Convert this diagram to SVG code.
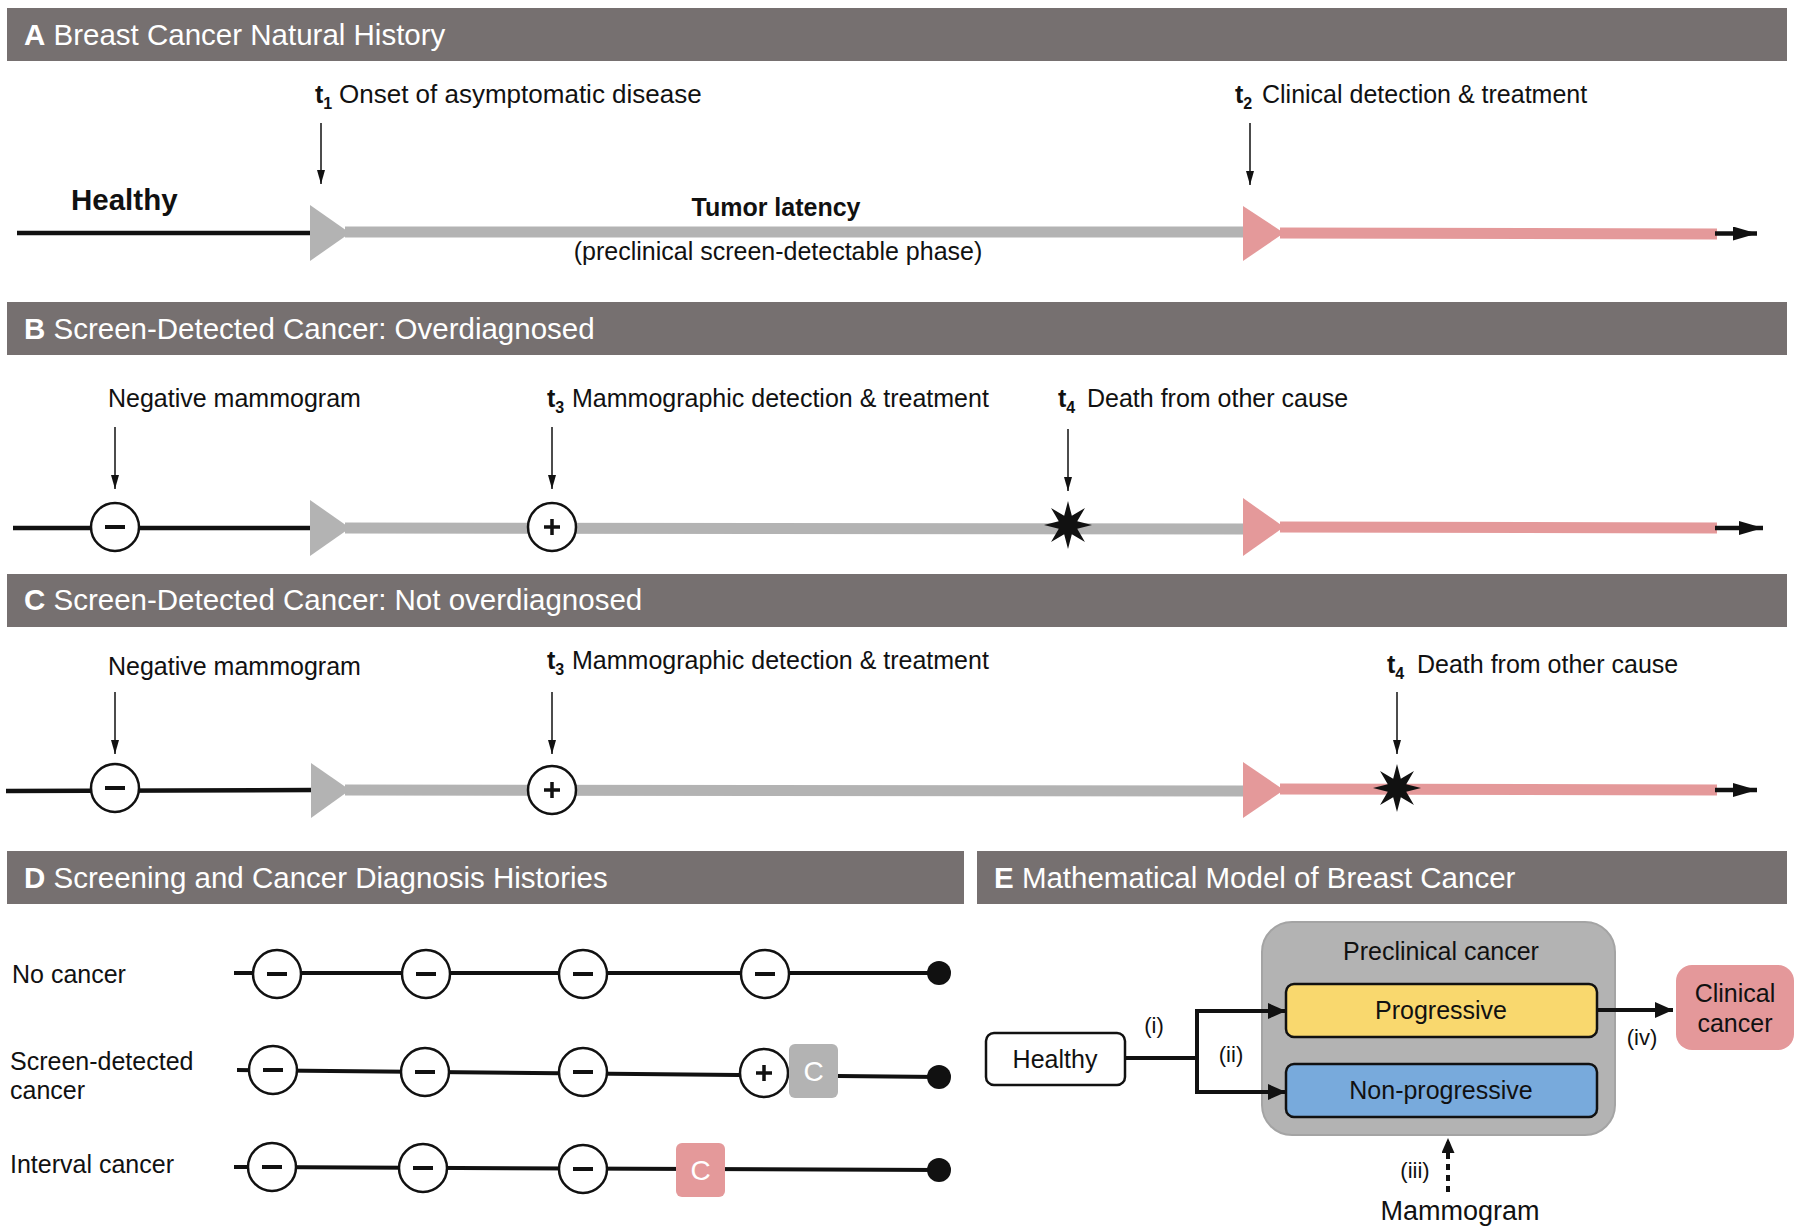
<svg xmlns="http://www.w3.org/2000/svg" xmlns:xlink="http://www.w3.org/1999/xlink" width="1800" height="1229" viewBox="0 0 1800 1229">
<style>
text{font-family:"Liberation Sans",Arial,sans-serif;fill:#111}
.hdr{fill:#767070}
.ht{fill:#fff;font-size:29.5px}
.lb{font-size:25px}
.sm{font-size:22px}
.b{font-weight:bold}
.sub{font-size:16px;font-weight:bold}
.blk{stroke:#111;stroke-width:4.5;fill:none}
.gbar{stroke:#b3b3b3;stroke-width:11;fill:none}
.pbar{stroke:#e4999a;stroke-width:11;fill:none}
.thin{stroke:#111;stroke-width:1.5;fill:none}
.tl{stroke:#111;stroke-width:4;fill:none}
.mid{text-anchor:middle}
</style>
<defs>
<marker id="mThin" viewBox="0 0 14 8" refX="14" refY="4" markerWidth="14" markerHeight="8" markerUnits="userSpaceOnUse" orient="auto"><path d="M0,0 L14,4 L0,8 z" fill="#111"/></marker>
<marker id="mEnd" viewBox="0 0 24 14" refX="24" refY="7" markerWidth="24" markerHeight="14" markerUnits="userSpaceOnUse" orient="auto"><path d="M0,0 L24,7 L0,14 z" fill="#111"/></marker>
<marker id="mE" viewBox="0 0 18 16" refX="18" refY="8" markerWidth="18" markerHeight="16" markerUnits="userSpaceOnUse" orient="auto"><path d="M0,0 L18,8 L0,16 z" fill="#111"/></marker>
<marker id="mD" viewBox="0 0 15 13" refX="15" refY="6.5" markerWidth="15" markerHeight="13" markerUnits="userSpaceOnUse" orient="auto"><path d="M0,0 L15,6.5 L0,13 z" fill="#111"/></marker>
<g id="neg"><circle r="24" fill="#fff" stroke="#111" stroke-width="2.5"/><line x1="-10" y1="0" x2="10" y2="0" stroke="#111" stroke-width="4"/></g>
<g id="pos"><circle r="24" fill="#fff" stroke="#111" stroke-width="2.5"/><path d="M-8,0 H8 M0,-8 V8" stroke="#111" stroke-width="3.5"/></g>
<polygon id="star" fill="#111" points="0,-24 3.83,-9.24 16.97,-16.97 9.24,-3.83 24,0 9.24,3.83 16.97,16.97 3.83,9.24 0,24 -3.83,9.24 -16.97,16.97 -9.24,3.83 -24,0 -9.24,-3.83 -16.97,-16.97 -3.83,-9.24"/>
</defs>
<rect width="1800" height="1229" fill="#fff"/>

<!-- Headers -->
<g id="headerA"><rect class="hdr" x="7" y="8" width="1780" height="53"/><text class="ht" x="24" y="45"><tspan class="b">A</tspan> Breast Cancer Natural History</text></g>
<g id="headerB"><rect class="hdr" x="7" y="302" width="1780" height="53"/><text class="ht" x="24" y="339"><tspan class="b">B</tspan> Screen-Detected Cancer: Overdiagnosed</text></g>
<g id="headerC"><rect class="hdr" x="7" y="574" width="1780" height="53"/><text class="ht" x="24" y="610"><tspan class="b">C</tspan> Screen-Detected Cancer: Not overdiagnosed</text></g>
<g id="headerD"><rect class="hdr" x="7" y="851" width="957" height="53"/><text class="ht" x="24" y="888"><tspan class="b">D</tspan> Screening and Cancer Diagnosis Histories</text></g>
<g id="headerE"><rect class="hdr" x="977" y="851" width="810" height="53"/><text class="ht" x="994" y="888"><tspan class="b">E</tspan> Mathematical Model of Breast Cancer</text></g>

<!-- Panel A -->
<g id="panelA">
<line class="blk" x1="17" y1="233" x2="312" y2="233"/>
<line class="gbar" x1="345" y1="232" x2="1246" y2="232"/>
<polygon points="310,205 350,233 310,261" fill="#b3b3b3"/>
<line class="pbar" x1="1280" y1="233" x2="1717" y2="234"/>
<polygon points="1243,206 1284,233 1243,261" fill="#e4999a"/>
<line class="blk" x1="1715" y1="233.5" x2="1757" y2="233.5" marker-end="url(#mEnd)"/>
<text class="b" x="71" y="210" font-size="29.5">Healthy</text>
<text class="lb b mid" x="776" y="216">Tumor latency</text>
<text class="lb mid" x="778" y="260">(preclinical screen-detectable phase)</text>
<text class="lb" x="315" y="103"><tspan class="b">t</tspan><tspan class="sub" dy="6">1</tspan><tspan x="339" dy="-6" font-size="26">Onset of asymptomatic disease</tspan></text>
<text class="lb" x="1235" y="103"><tspan class="b">t</tspan><tspan class="sub" dy="6">2</tspan><tspan x="1262" dy="-6">Clinical detection &amp; treatment</tspan></text>
</g>

<!-- Panel B -->
<g id="panelB">
<line class="blk" x1="13" y1="528" x2="312" y2="528"/>
<line class="gbar" x1="345" y1="528" x2="1246" y2="529"/>
<polygon points="310,500 350,528 310,556" fill="#b3b3b3"/>
<line class="pbar" x1="1280" y1="527" x2="1717" y2="528"/>
<polygon points="1243,498 1284,527 1243,556" fill="#e4999a"/>
<line class="blk" x1="1715" y1="528" x2="1763" y2="528" marker-end="url(#mEnd)"/>
<use xlink:href="#neg" x="115" y="527"/>
<use xlink:href="#pos" x="552" y="527"/>
<use xlink:href="#star" x="1068" y="525"/>
<text class="lb" x="108" y="407">Negative mammogram</text>
<text class="lb" x="547" y="407"><tspan class="b">t</tspan><tspan class="sub" dy="6">3</tspan><tspan x="572" dy="-6">Mammographic detection &amp; treatment</tspan></text>
<text class="lb" x="1058" y="407"><tspan class="b">t</tspan><tspan class="sub" dy="6">4</tspan><tspan x="1087" dy="-6">Death from other cause</tspan></text>
</g>

<!-- Panel C -->
<g id="panelC">
<line class="blk" x1="6" y1="791" x2="313" y2="790"/>
<line class="gbar" x1="345" y1="790" x2="1246" y2="791"/>
<polygon points="311,763 350,790 311,818" fill="#b3b3b3"/>
<line class="pbar" x1="1280" y1="789" x2="1717" y2="790"/>
<polygon points="1243,762 1284,790 1243,818" fill="#e4999a"/>
<line class="blk" x1="1715" y1="790" x2="1757" y2="790" marker-end="url(#mEnd)"/>
<use xlink:href="#neg" x="115" y="788"/>
<use xlink:href="#pos" x="552" y="790"/>
<use xlink:href="#star" x="1397" y="788"/>
<text class="lb" x="108" y="675">Negative mammogram</text>
<text class="lb" x="547" y="669"><tspan class="b">t</tspan><tspan class="sub" dy="6">3</tspan><tspan x="572" dy="-6">Mammographic detection &amp; treatment</tspan></text>
<text class="lb" x="1387" y="673"><tspan class="b">t</tspan><tspan class="sub" dy="6">4</tspan><tspan x="1417" dy="-6">Death from other cause</tspan></text>
</g>

<!-- Panel D -->
<g id="panelD">
<text class="lb" x="12" y="983">No cancer</text>
<text class="lb" x="10" y="1070">Screen-detected</text>
<text class="lb" x="10" y="1099">cancer</text>
<text class="lb" x="10" y="1173">Interval cancer</text>
<g id="rowNoCancer">
<line class="tl" x1="234" y1="973" x2="939" y2="973"/>
<use xlink:href="#neg" x="277" y="974"/>
<use xlink:href="#neg" x="426" y="974"/>
<use xlink:href="#neg" x="583" y="974"/>
<use xlink:href="#neg" x="765" y="974"/>
<circle cx="939" cy="973" r="12" fill="#111"/>
</g>
<g id="rowScreen">
<line class="tl" x1="237" y1="1070" x2="939" y2="1077"/>
<use xlink:href="#neg" x="273" y="1070"/>
<use xlink:href="#neg" x="425" y="1072"/>
<use xlink:href="#neg" x="583" y="1072"/>
<use xlink:href="#pos" x="764" y="1073"/>
<rect x="789" y="1044" width="49" height="54" rx="6" fill="#b3b3b3"/>
<text class="mid" x="813.5" y="1081" font-size="28" style="fill:#fff">C</text>
<circle cx="939" cy="1077" r="12" fill="#111"/>
</g>
<g id="rowInterval">
<line class="tl" x1="234" y1="1167" x2="939" y2="1170"/>
<use xlink:href="#neg" x="272" y="1167"/>
<use xlink:href="#neg" x="423" y="1168"/>
<use xlink:href="#neg" x="583" y="1169"/>
<rect x="676" y="1143" width="49" height="54" rx="6" fill="#e4999a"/>
<text class="mid" x="700.5" y="1180" font-size="28" style="fill:#fff">C</text>
<circle cx="939" cy="1170" r="12" fill="#111"/>
</g>
</g>

<!-- Panel E -->
<g id="nodePreclinical">
<rect x="1262" y="922" width="353" height="213" rx="30" fill="#b3b3b3" stroke="#a4a4a4" stroke-width="2"/>
<text class="lb mid" x="1441" y="960">Preclinical cancer</text>
</g>
<g id="nodeProgressive">
<rect x="1286" y="984" width="311" height="53" rx="8" fill="#f9d86e" stroke="#111" stroke-width="2.5"/>
<text class="lb mid" x="1441" y="1019">Progressive</text>
</g>
<g id="nodeNonProgressive">
<rect x="1286" y="1064" width="311" height="53" rx="8" fill="#78aadc" stroke="#111" stroke-width="2.5"/>
<text class="lb mid" x="1441" y="1099">Non-progressive</text>
</g>
<g id="nodeHealthy">
<rect x="986" y="1033" width="139" height="52" rx="8" fill="#fff" stroke="#111" stroke-width="2.5"/>
<text class="lb mid" x="1055" y="1068">Healthy</text>
</g>
<g id="nodeClinical">
<rect x="1676" y="965" width="118" height="85" rx="16" fill="#e4989a"/>
<text class="lb mid" x="1735" y="1002">Clinical</text>
<text class="lb mid" x="1735" y="1032">cancer</text>
</g>
<g id="nodeMammogram">
<text class="mid" x="1460" y="1220" font-size="27">Mammogram</text>
</g>
<g id="connectors">
<path class="tl" d="M1125,1058 H1197 M1197,1010 V1094"/>
<line class="tl" x1="1195" y1="1011" x2="1286" y2="1011" marker-end="url(#mE)"/>
<line class="tl" x1="1195" y1="1092" x2="1286" y2="1092" marker-end="url(#mE)"/>
<line class="tl" x1="1597" y1="1010" x2="1673" y2="1010" marker-end="url(#mE)"/>
<line x1="1448" y1="1192" x2="1448" y2="1138" stroke="#111" stroke-width="4" stroke-dasharray="6,5" marker-end="url(#mD)"/>
<text class="sm mid" x="1154" y="1033">(i)</text>
<text class="sm mid" x="1231" y="1062">(ii)</text>
<text class="sm mid" x="1415" y="1178">(iii)</text>
<text class="sm mid" x="1642" y="1045">(iv)</text>
<line class="thin" x1="321" y1="123" x2="321" y2="184" marker-end="url(#mThin)"/>
<line class="thin" x1="1250" y1="123" x2="1250" y2="185" marker-end="url(#mThin)"/>
<line class="thin" x1="115" y1="427" x2="115" y2="489" marker-end="url(#mThin)"/>
<line class="thin" x1="552" y1="427" x2="552" y2="489" marker-end="url(#mThin)"/>
<line class="thin" x1="1068" y1="429" x2="1068" y2="491" marker-end="url(#mThin)"/>
<line class="thin" x1="115" y1="692" x2="115" y2="754" marker-end="url(#mThin)"/>
<line class="thin" x1="552" y1="692" x2="552" y2="754" marker-end="url(#mThin)"/>
<line class="thin" x1="1397" y1="692" x2="1397" y2="754" marker-end="url(#mThin)"/>
</g>
</svg>
